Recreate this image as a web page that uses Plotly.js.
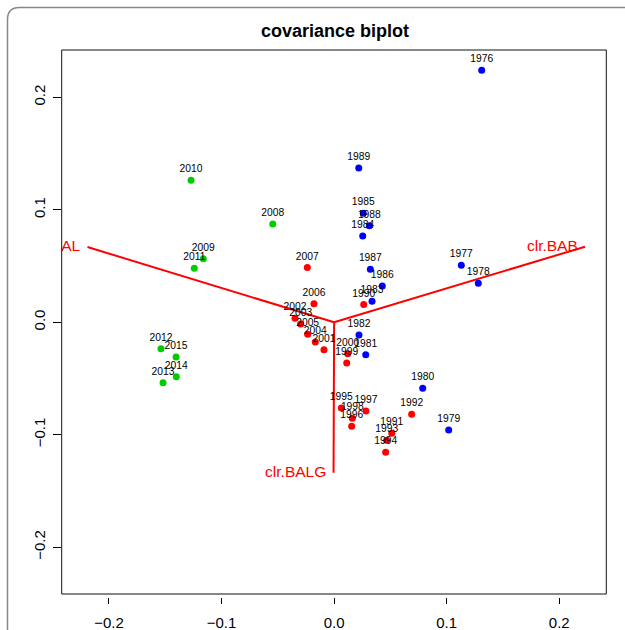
<!DOCTYPE html>
<html>
<head>
<meta charset="utf-8">
<script src="https://cdn.plot.ly/plotly-3.0.1.min.js"></script>
<style>html,body{margin:0;padding:0;background:#fff;}#chart{width:625px;height:630px;}</style>
</head>
<body>
<div id="chart"></div>
<script>
// Scores: period 1976-1989 (blue)
const blueYears = ["1976","1977","1978","1979","1980","1981","1982","1983","1984","1985","1986","1987","1988","1989"];
const blueX = [0.1311,0.1130,0.1281,0.1018,0.0787,0.0281,0.0221,0.0337,0.0254,0.0259,0.0428,0.0322,0.0313,0.0219];
const blueY = [0.2241,0.0507,0.0347,-0.0958,-0.0587,-0.0288,-0.0113,0.0187,0.0767,0.0969,0.0323,0.0471,0.0859,0.1372];

// Scores: 1990-2007 (red)
const redYears = ["1990","1991","1992","1993","1994","1995","1996","1997","1998","1999","2000","2001","2002","2003","2004","2005","2006","2007"];
const redX = [0.0263,0.0512,0.0689,0.0467,0.0458,0.0064,0.0156,0.0283,0.0162,0.0112,0.0121,-0.0090,-0.0347,-0.0297,-0.0167,-0.0235,-0.0179,-0.0238];
const redY = [0.0157,-0.0987,-0.0818,-0.1049,-0.1156,-0.0762,-0.0925,-0.0789,-0.0854,-0.0362,-0.0279,-0.0244,0.0036,-0.0015,-0.0175,-0.0107,0.0165,0.0486];

// Scores: 2008-2015 (green)
const greenYears = ["2008","2009","2010","2011","2012","2013","2014","2015"];
const greenX = [-0.0545,-0.1162,-0.1271,-0.1242,-0.1538,-0.1520,-0.1402,-0.1404];
const greenY = [0.0874,0.0566,0.1263,0.0480,-0.0235,-0.0537,-0.0484,-0.0309];

// Loadings (variables)
const loadNames = ["clr.BAL","clr.BAB","clr.BALG"];
const loadX = [-0.2191,0.2229,-0.0005];
const loadY = [0.0669,0.0672,-0.1337];

const xRange = [-0.2420,0.2418];
const yRange = [-0.2416,0.2421];
const tickVals = [-0.2,-0.1,0.0,0.1,0.2];
const tickText = ["\u22120.2","\u22120.1","0.0","0.1","0.2"];

const W = 625, H = 630;
const plotL = 61.7, plotR = 606.3, plotT = 50, plotB = 594;
const xDom = [plotL / W, plotR / W];
const yDom = [1 - plotB / H, 1 - plotT / H];

const FONT = "Liberation Sans, Arial, sans-serif";
const labelFont = {family: FONT, size: 10.3, color: "#000"};

function scoreTrace(xs, ys, names, color) {
  return {
    type: "scatter", mode: "markers+text",
    x: xs, y: ys, text: names,
    textposition: "top center",
    textfont: labelFont,
    marker: {color: color, size: 7, line: {width: 0}},
    hoverinfo: "text", showlegend: false, cliponaxis: true
  };
}

const lx = [], ly = [];
for (let i = 0; i < loadNames.length; i++) {
  lx.push(0, loadX[i], null);
  ly.push(0, loadY[i], null);
}

const traces = [
  {type: "scatter", mode: "lines", x: lx, y: ly, line: {color: "#FF0000", width: 2}, hoverinfo: "skip", showlegend: false},
  scoreTrace(blueX, blueY, blueYears, "#0000FF"),
  scoreTrace(redX, redY, redYears, "#FF0000"),
  scoreTrace(greenX, greenY, greenYears, "#00CD00"),
  {type: "scatter", mode: "markers+text", x: loadX, y: loadY, text: loadNames,
   textposition: "middle left",
   marker: {size: 10, opacity: 0},
   textfont: {family: FONT, size: 15.5, color: "#FF0000"},
   hoverinfo: "skip", showlegend: false, cliponaxis: true}
];

const cr = 12; // frame corner radius px
const fx = 7.5 / W, fy = 1 - 7.5 / H;
const framePath = "M " + fx + "," + (-0.1) + " L " + fx + "," + (fy - cr / H) +
  " Q " + fx + "," + fy + " " + (fx + cr / W) + "," + fy + " L 1.1," + fy;

const layout = {
  width: W, height: H,
  margin: {l: 0, r: 0, t: 0, b: 0},
  paper_bgcolor: "#fff", plot_bgcolor: "#fff",
  showlegend: false,
  title: {text: "<b>covariance biplot</b>", x: 335 / W, xanchor: "center", y: 1 - 31 / H, yanchor: "middle",
          font: {family: FONT, size: 18, color: "#000"}},
  xaxis: {domain: xDom, range: xRange, anchor: "free", position: 1 - 597 / H,
          showgrid: false, zeroline: false, showline: false,
          tickmode: "array", tickvals: tickVals, ticktext: tickText,
          ticks: "outside", ticklen: 6, tickwidth: 1, tickcolor: "#000",
          ticklabelstandoff: 6,
          tickfont: {family: FONT, size: 15, color: "#000"}},
  yaxis: {domain: yDom, range: yRange, anchor: "free", position: (plotL - 1) / W,
          showgrid: false, zeroline: false, showline: false,
          tickmode: "array", tickvals: tickVals, ticktext: tickText, tickangle: -90,
          ticks: "outside", ticklen: 8, tickwidth: 1, tickcolor: "#000",
          ticklabelstandoff: 2,
          tickfont: {family: FONT, size: 15, color: "#000"}},
  shapes: [
    {type: "rect", xref: "paper", yref: "paper", x0: xDom[0], x1: xDom[1], y0: yDom[0], y1: yDom[1],
     line: {color: "#111", width: 1}, fillcolor: "rgba(0,0,0,0)", layer: "above"},
    {type: "path", xref: "paper", yref: "paper", path: framePath,
     line: {color: "#888", width: 1.5}, fillcolor: "rgba(0,0,0,0)"}
  ]
};

Plotly.newPlot("chart", traces, layout, {displayModeBar: false, staticPlot: true});
</script>
</body>
</html>
